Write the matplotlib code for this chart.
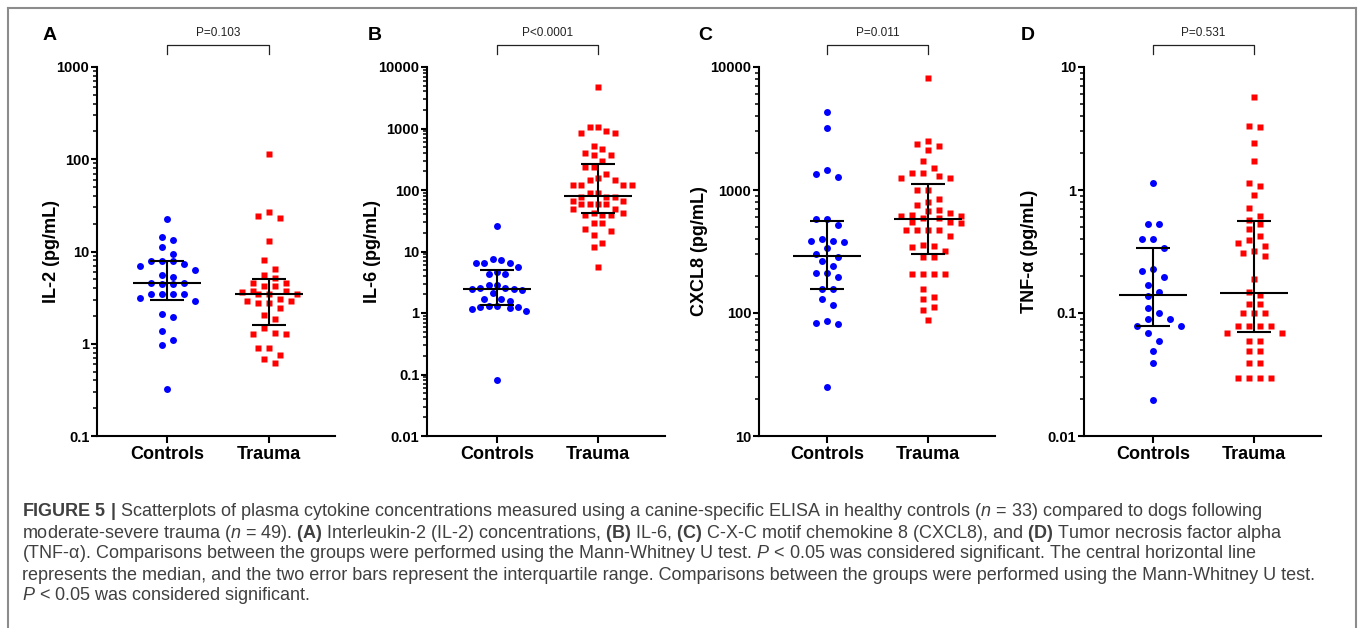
import numpy as np
import matplotlib
matplotlib.use("Agg")
import matplotlib.pyplot as plt
from matplotlib.lines import Line2D
from matplotlib.ticker import FixedLocator, FixedFormatter, LogLocator, NullFormatter
from matplotlib import font_manager as fm

# ---------------- data ----------------
groups = ["Controls", "Trauma"]
panel_letters = ["A", "B", "C", "D"]
y_labels = ["IL-2 (pg/mL)", "IL-6 (pg/mL)", "CXCL8 (pg/mL)", "TNF-\u03b1 (pg/mL)"]
p_texts = ["P=0.103", "P<0.0001", "P=0.011", "P=0.531"]

il2_ticks = [0.1, 1, 10, 100, 1000]
il2_ticklabels = ["0.1", "1", "10", "100", "1000"]
il6_ticks = [0.01, 0.1, 1, 10, 100, 1000, 10000]
il6_ticklabels = ["0.01", "0.1", "1", "10", "100", "1000", "10000"]
cxcl8_ticks = [10, 100, 1000, 10000]
cxcl8_ticklabels = ["10", "100", "1000", "10000"]
tnf_ticks = [0.01, 0.1, 1, 10]
tnf_ticklabels = ["0.01", "0.1", "1", "10"]

il2_controls = [22.3, 14.4, 13.3, 11.1, 9.3, 7.8, 7.8, 7.8, 7.3, 6.9, 6.3, 5.6, 5.3,
                4.6, 4.6, 4.4, 4.4, 3.5, 3.5, 3.5, 3.5, 3.15, 2.9, 2.1, 1.94, 1.38,
                1.11, 0.96, 0.32]
il2_trauma = [114, 27, 24, 22.9, 12.9, 8.1, 6.5, 5.5, 5.2, 4.6, 4.6, 4.25, 4.25, 3.73,
              3.73, 3.64, 3.49, 3.49, 3.49, 3.08, 2.88, 2.88, 2.77, 2.77, 2.44, 2.07,
              1.85, 1.47, 1.32, 1.26, 1.26, 0.91, 0.91, 0.75, 0.69, 0.62]
il6_controls = [26, 7.6, 7.3, 6.6, 6.6, 6.4, 5.5, 4.6, 4.3, 4.3, 2.9, 2.9, 2.55, 2.55,
                2.45, 2.45, 2.34, 2.14, 1.72, 1.72, 1.58, 1.30, 1.28, 1.27, 1.27, 1.22,
                1.17, 1.06, 0.08]
il6_trauma = [4680, 1045, 1045, 900, 836, 836, 513, 464, 404, 370, 366, 300, 237, 237,
              180, 155, 145, 145, 120, 120, 120, 120, 90, 90, 78, 78, 78, 66, 66, 59,
              59, 59, 59, 50, 50, 43, 43, 39, 39, 39, 29, 29, 23, 21.5, 18.8, 13.9,
              12, 5.5]
cxcl8_controls = [4290, 3220, 1443, 1349, 1265, 582, 582, 517, 398, 388, 386, 376, 336,
                  302, 284, 264, 240, 211, 211, 198, 157, 157, 129, 117, 85.5, 83, 82,
                  24.8]
cxcl8_trauma = [8100, 2513, 2388, 2259, 2096, 1718, 1497, 1374, 1374, 1300, 1260, 1260,
                993, 993, 845, 803, 750, 692, 670, 646, 625, 620, 610, 593, 593, 553,
                553, 536, 472, 472, 472, 472, 426, 355, 349, 347, 318, 284, 284, 209,
                209, 209, 209, 157, 134, 129, 112, 106, 87]
tnf_controls = [1.13, 0.526, 0.526, 0.397, 0.397, 0.337, 0.228, 0.218, 0.197, 0.169,
                0.148, 0.137, 0.109, 0.0995, 0.089, 0.089, 0.0789, 0.0789, 0.069, 0.059,
                0.049, 0.039, 0.0196]
tnf_trauma = [5.74, 3.32, 3.27, 2.43, 1.72, 1.13, 1.08, 0.917, 0.718, 0.615, 0.570,
              0.530, 0.479, 0.420, 0.390, 0.371, 0.348, 0.319, 0.307, 0.289, 0.189,
              0.148, 0.139, 0.119, 0.119, 0.0995, 0.0995, 0.0995, 0.0789, 0.0789,
              0.0789, 0.0789, 0.069, 0.069, 0.0596, 0.0596, 0.049, 0.049, 0.039, 0.039,
              0.0296, 0.0296, 0.0296, 0.0296]

# median and interquartile range shown in the figure  [Controls, Trauma]
il2_median, il2_q1, il2_q3 = [4.6, 3.49], [3.0, 1.6], [7.8, 5.0]
il6_median, il6_q1, il6_q3 = [2.5, 80], [1.33, 43], [5.0, 265]
cxcl8_median, cxcl8_q1, cxcl8_q3 = [293, 585], [157, 304], [556, 1125]
tnf_median, tnf_q1, tnf_q3 = [0.139, 0.145], [0.079, 0.0697], [0.337, 0.556]

caption_lines = [
    r"$\mathbf{FIGURE\ 5\ |}$ Scatterplots of plasma cytokine concentrations measured using a canine-specific ELISA in healthy controls ($\mathit{n}$ = 33) compared to dogs following",
    r"moderate-severe trauma ($\mathit{n}$ = 49). $\mathbf{(A)}$ Interleukin-2 (IL-2) concentrations, $\mathbf{(B)}$ IL-6, $\mathbf{(C)}$ C-X-C motif chemokine 8 (CXCL8), and $\mathbf{(D)}$ Tumor necrosis factor alpha",
    "(TNF-\u03b1). Comparisons between the groups were performed using the Mann-Whitney U test. $\\mathit{P}$ < 0.05 was considered significant. The central horizontal line",
    "represents the median, and the two error bars represent the interquartile range. Comparisons between the groups were performed using the Mann-Whitney U test.",
    "$\\mathit{P}$ < 0.05 was considered significant.",
]

panels = [
    (il2_controls, il2_trauma, il2_ticks, il2_ticklabels, il2_median, il2_q1, il2_q3),
    (il6_controls, il6_trauma, il6_ticks, il6_ticklabels, il6_median, il6_q1, il6_q3),
    (cxcl8_controls, cxcl8_trauma, cxcl8_ticks, cxcl8_ticklabels, cxcl8_median, cxcl8_q1, cxcl8_q3),
    (tnf_controls, tnf_trauma, tnf_ticks, tnf_ticklabels, tnf_median, tnf_q1, tnf_q3),
]

# ---------------- style / layout ----------------
W, H = 1360, 628
def have(name):
    try:
        fm.findfont(fm.FontProperties(family=name), fallback_to_default=False)
        return True
    except Exception:
        return False

AX_FONT = "Liberation Sans" if have("Liberation Sans") else "DejaVu Sans"
CAP_FONT = AX_FONT
plt.rcParams["font.family"] = [AX_FONT, "DejaVu Sans"]
plt.rcParams["mathtext.fontset"] = "custom"
plt.rcParams["mathtext.rm"] = CAP_FONT
plt.rcParams["mathtext.bf"] = CAP_FONT + ":bold"
plt.rcParams["mathtext.it"] = CAP_FONT + ":italic"

BLUE, RED = "#0000ff", "#ff0000"
ax_left_px = [97, 427, 759, 1084]
ax_right_px = [335, 665, 995, 1321]
ctrl_px = [167, 497, 827, 1153]
trau_px = [269, 598, 928, 1254]
ax_top_px, ax_bot_px = 67, 436
slot_px = [11.0, 8.4, 11.0, 11.0]
ylabel_x_px = [52, 372, 700, 1030]
letter_x_px = [50, 375, 705, 1028]

fig = plt.figure(figsize=(W / 100, H / 100), dpi=100)
fig.patch.set_facecolor("white")


def swarm_x(ax, xpos, vals, slot, row_px=9.0, half_width=29.0, mw=7.5, mh=6.5):
    """GraphPad-like scatter: points grouped into rows, spread symmetrically."""
    vals = np.asarray(vals, float)
    n = len(vals)
    pts = ax.transData.transform(np.column_stack([np.full(n, float(xpos)), vals]))
    ypx = pts[:, 1]
    unit = ax.transData.transform((1.0, 1.0))[0] - ax.transData.transform((0.0, 1.0))[0]
    max_n = int(2 * half_width / slot) + 1
    order = np.argsort(-ypx, kind="stable")
    rows, cur = [], [order[0]]
    for i in order[1:]:
        if ypx[cur[0]] - ypx[i] < row_px and len(cur) < max_n:
            cur.append(i)
        else:
            rows.append(cur)
            cur = [i]
    rows.append(cur)
    offs = np.zeros(n)
    placed = []
    lim = half_width + 0.6 * slot
    for row in rows:
        m = len(row)
        slots = sorted(np.arange(m) - (m - 1) / 2.0, key=lambda s: (abs(s), s))
        for i, s in zip(row, slots):
            cands = [s * slot]
            for k in np.arange(0.5, 12, 0.5):
                for sg in (1, -1):
                    c = (s + sg * k) * slot
                    if abs(c) <= lim:
                        cands.append(c)
            best, best_score = cands[0], None
            for c in cands:
                score = sum(max(0.0, mw - abs(px - c)) * max(0.0, mh - abs(py - ypx[i]))
                            for px, py in placed)
                if best_score is None or score < best_score - 1e-9:
                    best, best_score = c, score
                if score == 0:
                    best = c
                    break
            placed.append((best, ypx[i]))
            offs[i] = best / unit
    return xpos + offs


for k, (ctrl, trau, ticks, ticklabels, med, q1, q3) in enumerate(panels):
    l, r = ax_left_px[k], ax_right_px[k]
    ax = fig.add_axes([l / W, 1 - ax_bot_px / H, (r - l) / W, (ax_bot_px - ax_top_px) / H])
    u = trau_px[k] - ctrl_px[k]
    c = ctrl_px[k] - l
    ax.set_xlim(-c / u, (r - l - c) / u)
    ax.set_yscale("log")
    ax.set_ylim(ticks[0], ticks[-1])
    ax.yaxis.set_major_locator(FixedLocator(ticks))
    ax.yaxis.set_major_formatter(FixedFormatter(ticklabels))
    ax.yaxis.set_minor_locator(LogLocator(base=10, subs=np.arange(2, 10), numticks=50))
    ax.yaxis.set_minor_formatter(NullFormatter())
    ax.set_xticks([0, 1])
    ax.set_xticklabels(groups, fontsize=13, fontweight="bold")
    for t in ax.get_yticklabels():
        t.set_fontsize(10.5)
        t.set_fontweight("bold")
    ax.tick_params(axis="y", which="major", length=4.5, width=1.5, pad=1)
    ax.tick_params(axis="y", which="minor", length=3, width=1.1)
    ax.tick_params(axis="x", which="major", length=5, width=1.5, pad=2.5)
    for side in ("top", "right"):
        ax.spines[side].set_visible(False)
    for side in ("left", "bottom"):
        ax.spines[side].set_linewidth(1.5)
    ax.set_facecolor("none")

    xc = swarm_x(ax, 0, ctrl, slot_px[k])
    xt = swarm_x(ax, 1, trau, slot_px[k])
    ax.plot(xc, ctrl, ls="none", marker="o", ms=5.0, mfc=BLUE, mec="none", clip_on=False, zorder=3)
    ax.plot(xt, trau, ls="none", marker="s", ms=4.8, mfc=RED, mec="none", clip_on=False, zorder=3)

    for g in range(2):
        ax.plot([g - 0.333, g + 0.333], [med[g], med[g]], color="black", lw=1.5, zorder=4,
                solid_capstyle="butt")
        ax.plot([g, g], [q1[g], q3[g]], color="black", lw=1.5, zorder=4, solid_capstyle="butt")
        for q in (q1[g], q3[g]):
            ax.plot([g - 0.167, g + 0.167], [q, q], color="black", lw=1.5, zorder=4,
                    solid_capstyle="butt")

    # significance bracket
    yb_top = (ax_bot_px - 45) / (ax_bot_px - ax_top_px)
    yb_bot = (ax_bot_px - 54) / (ax_bot_px - ax_top_px)
    ax.plot([0, 0, 1, 1], [yb_bot, yb_top, yb_top, yb_bot], color="#222222", lw=0.9,
            transform=ax.get_xaxis_transform(), clip_on=False)
    ax.text(0.5, (ax_bot_px - 33) / (ax_bot_px - ax_top_px), p_texts[k], ha="center",
            va="center", fontsize=8.5, color="#222222", transform=ax.get_xaxis_transform())

    fig.text(ylabel_x_px[k] / W, 1 - (ax_top_px + ax_bot_px) / 2 / H, y_labels[k],
             rotation=90, ha="center", va="center", fontsize=13, fontweight="bold")
    fig.text(letter_x_px[k] / W, 1 - 36 / H, panel_letters[k], ha="center", va="center",
             fontsize=14, fontweight="bold")

# frame around figure
fc = "#8c8c8c"
fig.add_artist(Line2D([7.5 / W, 7.5 / W], [0, 1 - 8 / H], transform=fig.transFigure, color=fc, lw=1.5))
fig.add_artist(Line2D([7.5 / W, 1355.5 / W], [1 - 8 / H, 1 - 8 / H], transform=fig.transFigure, color=fc, lw=1.5))
fig.add_artist(Line2D([1355.5 / W, 1355.5 / W], [0, 1 - 8 / H], transform=fig.transFigure, color=fc, lw=1.5))

# caption
renderer = fig.canvas.get_renderer()
probe = fig.text(0, 0, caption_lines[3], fontsize=10)
w10 = probe.get_window_extent(renderer=renderer).width
probe.remove()
cap_fs = 10 * (1316 - 22) / w10
cap_y_px = [512, 533, 554, 575, 596]
for line, yp in zip(caption_lines, cap_y_px):
    fig.text(22 / W, 1 - yp / H, line, ha="left", va="center", fontsize=cap_fs, color="#404040")

fig.savefig("out.png", dpi=100, facecolor="white")
